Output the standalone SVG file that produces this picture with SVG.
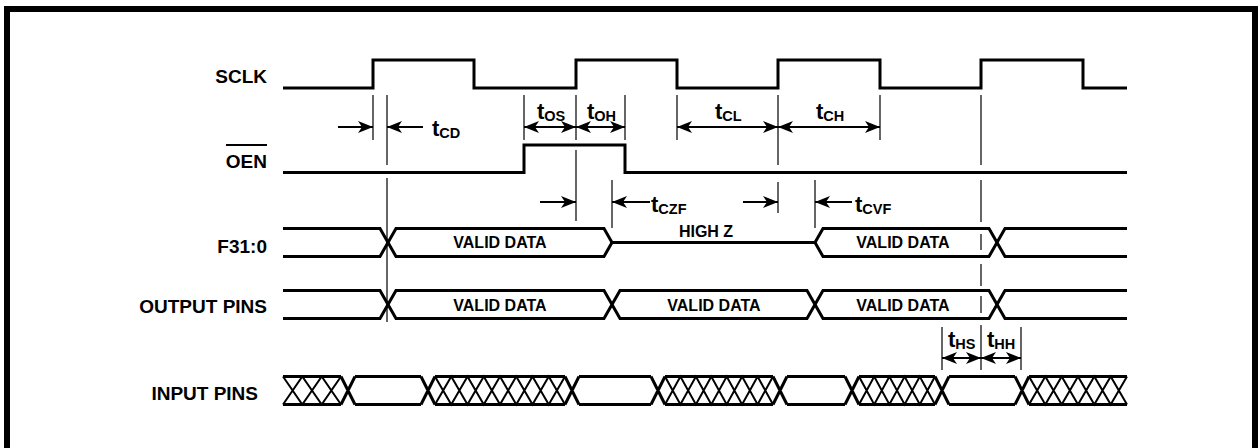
<svg xmlns="http://www.w3.org/2000/svg" width="1258" height="448" viewBox="0 0 1258 448">
<style>
text{font-family:"Liberation Sans",Arial,sans-serif;font-weight:bold;fill:#000}
.lbl{font-size:19px;text-anchor:end}
.dat{font-size:16px;text-anchor:middle}
.t{font-size:22px}
.s{font-size:14.5px}
.sig{fill:none;stroke:#000;stroke-width:3;stroke-linejoin:miter}
.hat{fill:none;stroke:#000;stroke-width:2}
.ref{fill:none;stroke:#000;stroke-width:1.2}
.arr{fill:none;stroke:#000;stroke-width:2}
.one{marker-end:url(#ah)}
.two{marker-start:url(#ah);marker-end:url(#ah)}
</style>
<defs>
<marker id="ah" viewBox="-16 -7 17 14" refX="0" refY="0" markerWidth="17" markerHeight="14" markerUnits="userSpaceOnUse" orient="auto-start-reverse">
<path d="M0,0 L-15,-6 L-11,0 L-15,6 Z" fill="#000"/>
</marker>
</defs>
<rect width="1258" height="448" fill="#fff"/>
<path d="M7,448 V9 H1255 V448" fill="none" stroke="#000" stroke-width="6"/>

<g id="sclk">
<text class="lbl" x="267" y="83">SCLK</text>
<path class="sig" d="M283,88 H373 V60 H474 V88 H576 V60 H677 V88 H778 V60 H880 V88 H981 V60 H1083 V88 H1127"/>
</g>

<g id="oen">
<text class="lbl" x="267" y="168">OEN</text>
<line x1="226" y1="145" x2="267" y2="145" stroke="#000" stroke-width="2"/>
<path class="sig" d="M283,172.5 H524 V145 H625 V172.5 H1127"/>
</g>

<g id="f31">
<text class="lbl" x="267" y="253">F31:0</text>
<path class="sig" d="M283,228.5 H380 L396,256.5 H604 L612,242.5 H815 L823,256.5 H989 L1005,228.5 H1127"/>
<path class="sig" d="M283,256.5 H380 L396,228.5 H604 L612,242.5 M815,242.5 L823,228.5 H989 L1005,256.5 H1127"/>
<text class="dat" x="500" y="248">VALID DATA</text>
<text class="dat" x="706" y="237">HIGH Z</text>
<text class="dat" x="903" y="248">VALID DATA</text>
</g>

<g id="output">
<text class="lbl" x="267" y="313">OUTPUT PINS</text>
<path class="sig" d="M283,290.5 H380 L396,318.5 H604 L620,290.5 H807 L823,318.5 H989 L1005,290.5 H1127"/>
<path class="sig" d="M283,318.5 H380 L396,290.5 H604 L620,318.5 H807 L823,290.5 H989 L1005,318.5 H1127"/>
<text class="dat" x="500" y="311">VALID DATA</text>
<text class="dat" x="714" y="311">VALID DATA</text>
<text class="dat" x="903" y="311">VALID DATA</text>
</g>

<g id="input">
<text class="lbl" x="258" y="400">INPUT PINS</text>
<path class="sig" d="M283,376.5 H341 M355,376.5 H421 M435,376.5 H565 M579,376.5 H651 M665,376.5 H773 M787,376.5 H845 M859,376.5 H935 M949,376.5 H1015 M1029,376.5 H1127"/>
<path class="sig" d="M283,404.5 H341 M355,404.5 H421 M435,404.5 H565 M579,404.5 H651 M665,404.5 H773 M787,404.5 H845 M859,404.5 H935 M949,404.5 H1015 M1029,404.5 H1127"/>
<path class="sig" d="M341,376.5 L355,404.5 M341,404.5 L355,376.5 M421,376.5 L435,404.5 M421,404.5 L435,376.5 M565,376.5 L579,404.5 M565,404.5 L579,376.5 M651,376.5 L665,404.5 M651,404.5 L665,376.5 M773,376.5 L787,404.5 M773,404.5 L787,376.5 M845,376.5 L859,404.5 M845,404.5 L859,376.5 M935,376.5 L949,404.5 M935,404.5 L949,376.5 M1015,376.5 L1029,404.5 M1015,404.5 L1029,376.5"/>
<path class="hat" d="M283,376.5 L302.3,404.5 L321.7,376.5 L341,404.5 M283,404.5 L302.3,376.5 L321.7,404.5 L341,376.5"/>
<path class="hat" d="M435,376.5 L451.25,404.5 L467.5,376.5 L483.75,404.5 L500,376.5 L516.25,404.5 L532.5,376.5 L548.75,404.5 L565,376.5 M435,404.5 L451.25,376.5 L467.5,404.5 L483.75,376.5 L500,404.5 L516.25,376.5 L532.5,404.5 L548.75,376.5 L565,404.5"/>
<path class="hat" d="M665,376.5 L680.4,404.5 L695.9,376.5 L711.3,404.5 L726.7,376.5 L742.1,404.5 L757.6,376.5 L773,404.5 M665,404.5 L680.4,376.5 L695.9,404.5 L711.3,376.5 L726.7,404.5 L742.1,376.5 L757.6,404.5 L773,376.5"/>
<path class="hat" d="M859,376.5 L874.2,404.5 L889.4,376.5 L904.6,404.5 L919.8,376.5 L935,404.5 M859,404.5 L874.2,376.5 L889.4,404.5 L904.6,376.5 L919.8,404.5 L935,376.5"/>
<path class="hat" d="M1029,376.5 L1045.3,404.5 L1061.7,376.5 L1078,404.5 L1094.3,376.5 L1110.7,404.5 L1127,376.5 M1029,404.5 L1045.3,376.5 L1061.7,404.5 L1078,376.5 L1094.3,404.5 L1110.7,376.5 L1127,404.5"/>
</g>

<g id="connectors">
<path class="ref" d="M373,95 V140 M387,95 V165 M387,178 V322 M524,95 V140 M576,95 V140 M576,150 V221 M625,95 V140 M677,95 V140 M778,95 V165 M778,182 V213 M880,95 V140 M981,95 V165 M981,180 V222 M981,234 V250 M981,264 V286 M981,296 V313 M981,325 V370 M612,180 V228 M815,180 V228 M942,327 V370 M1021,327 V370"/>
<path class="arr one" d="M338,127 H373"/>
<path class="arr one" d="M423,127 H387"/>
<path class="arr two" d="M524,127 H576"/>
<path class="arr two" d="M576,127 H625"/>
<path class="arr two" d="M677,127 H778"/>
<path class="arr two" d="M778,127 H880"/>
<path class="arr one" d="M540,202 H576"/>
<path class="arr one" d="M650,202 H612"/>
<path class="arr one" d="M743,202 H778"/>
<path class="arr one" d="M852,202 H815"/>
<path class="arr two" d="M942,358 H981"/>
<path class="arr two" d="M981,358 H1021"/>
</g>

<g id="timing-labels">
<text x="432" y="136"><tspan class="t">t</tspan><tspan class="s" dy="1.5">CD</tspan></text>
<text x="537" y="119"><tspan class="t">t</tspan><tspan class="s" dy="1.5">OS</tspan></text>
<text x="587" y="119"><tspan class="t">t</tspan><tspan class="s" dy="1.5">OH</tspan></text>
<text x="715" y="119"><tspan class="t">t</tspan><tspan class="s" dy="1.5">CL</tspan></text>
<text x="816" y="119"><tspan class="t">t</tspan><tspan class="s" dy="1.5">CH</tspan></text>
<text x="651" y="212"><tspan class="t">t</tspan><tspan class="s" dy="1.5">CZF</tspan></text>
<text x="855" y="212"><tspan class="t">t</tspan><tspan class="s" dy="1.5">CVF</tspan></text>
<text x="948" y="347"><tspan class="t">t</tspan><tspan class="s" dy="1.5">HS</tspan></text>
<text x="987" y="347"><tspan class="t">t</tspan><tspan class="s" dy="1.5">HH</tspan></text>
</g>
</svg>
